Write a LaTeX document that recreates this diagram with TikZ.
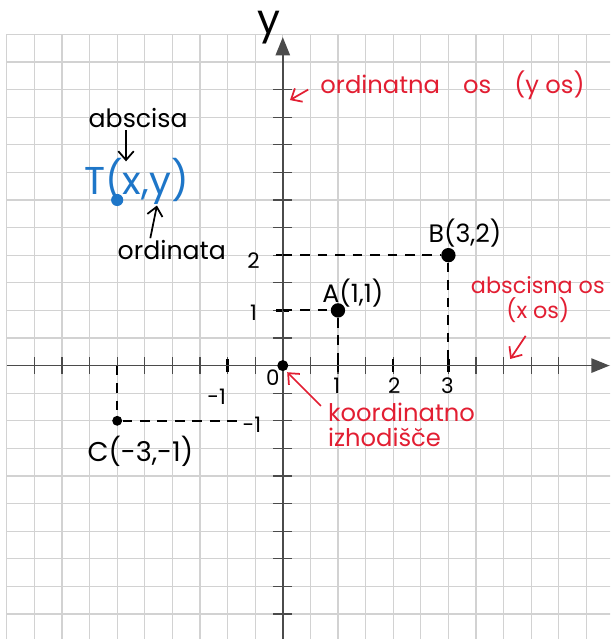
\documentclass[tikz,border=0pt]{standalone}
\usepackage{fontspec}
\setmainfont{Poppins}
\usetikzlibrary{arrows.meta}
\definecolor{penred}{RGB}{226,30,50}
\definecolor{penblue}{RGB}{30,118,200}
\definecolor{gridgray}{RGB}{210,210,210}
\definecolor{axisgray}{RGB}{75,75,75}

\begin{document}
\begin{tikzpicture}[
  lbl/.style={font=\fontsize{13}{14}\selectfont,inner sep=1pt},
  num/.style={font=\fontsize{11}{12}\selectfont,inner sep=1pt},
  note/.style={font=\fontsize{12.5}{13}\selectfont,text=penred,inner sep=1pt},
  dot/.style={circle,fill=black,inner sep=0pt,minimum size=2.6mm},
  proj/.style={dash pattern=on 5pt off 4pt,line width=1pt},
  arr/.style={-{Straight Barb[length=1.6mm,width=2.8mm]},line width=0.9pt},
  axis/.style={axisgray,line width=0.8pt,-{Triangle[length=3.3mm,width=2.6mm]}},
  tickmark/.style={axisgray,line width=0.6pt},
  bigtick/.style={black,line width=1.3pt}]
\useasboundingbox (-5.123,-4.953) rectangle (5.928,6.623);
\clip (-5.123,-4.953) rectangle (5.928,6.623);
\draw[gridgray,line width=0.7pt,step=0.5] (-5,-5.5) grid (6,6);
\coordinate (O) at (0,0);
\coordinate (xl) at (-5,0); \coordinate (xr) at (5.92,0);
\coordinate (yb) at (0,-5.2); \coordinate (yt) at (0,5.95);
\foreach \t in {-4.5,-4,...,5} {
  \draw[tickmark] (\t,-0.15) -- (\t,0.15);
  \draw[tickmark] (-0.17,\t) -- (0.17,\t);
}
\foreach \t in {-1,1,2,3} \draw[bigtick] (\t,-0.12) -- (\t,0.12);
\foreach \t in {1,2} \draw[bigtick] (-0.12,\t) -- (0.12,\t);
\draw[axis] (xl) -- (xr);
\draw[axis] (yb) -- (yt);
\node[inner sep=0pt,font=\fontsize{21}{21}\selectfont] (ylab) at (-0.25,6.12) {y};
\node[num] (zero) at (-0.18,-0.22) {0};
\node[num] (x1) at (0.98,-0.36) {1};
\node[num] (x2) at (2.02,-0.37) {2};
\node[num] (x3) at (2.98,-0.36) {3};
\node[num] (xm1) at (-1.2,-0.57) {-1};
\node[num] (ym1) at (-0.56,-1.08) {-1};
\node[num] (y1) at (-0.53,0.95) {1};
\node[num] (y2) at (-0.53,1.91) {2};
\node[dot] (A) at (1,1) {};
\node[dot] (B) at (3,2) {};
\node[dot,minimum size=1.8mm] (C) at (-3,-1) {};
\node[dot,minimum size=2mm] (Odot) at (O) {};
\node[dot,fill=penblue,minimum size=2.2mm] (T) at (-3,3) {};
\draw[proj] (A -| O) -- (A) -- (A |- O);
\draw[proj] (B -| O) -- (B) -- (B |- O);
\draw[proj] (C |- O) -- (C) -- (C -| ym1.west);
\node[lbl] (Alab) at (1.27,1.31) {A(1,1)};
\node[lbl] (Blab) at (3.3,2.4) {B(3,2)};
\node[lbl,font=\fontsize{14}{15}\selectfont] (Clab) at (-2.58,-1.56) {C(-3,-1)};
\node[text=penblue,inner sep=1pt,font=\fontsize{20}{20}\selectfont] (Tlab) at (-2.65,3.33) {T(x,y)};
\node[lbl] (absc) at (-2.62,4.48) {abscisa};
\node[lbl] (ordi) at (-2.01,2.09) {ordinata};
\coordinate (xhead) at (-2.84,3.7);
\coordinate (yhead) at (-2.28,2.9);
\draw[arr] (absc.south -| xhead) -- (xhead);
\draw[arr] ([xshift=-0.39cm]ordi.north) -- (yhead);
\node[note,anchor=west] (yaxnote) at (0.64,5.08) {ordinatna\hspace{0.3cm} os\hspace{0.3cm} (y os)};
\node[note,align=center,font=\fontsize{11.5}{13}\selectfont] (xaxnote) at (4.62,1.2) {abscisna os\\(x os)};
\node[note,align=left,anchor=north west] (orinote) at (0.78,-0.64) {koordinatno\\izhodišče};
\coordinate (yaxhead) at (0.13,4.81);
\coordinate (xaxhead) at (4.12,0.12);
\coordinate (Ohead) at (0.08,-0.12);
\draw[arr,penred] ([shift={(-0.18,-0.08)}]yaxnote.west) -- (yaxhead);
\draw[arr,penred] ([shift={(-0.22,-0.2)}]xaxnote.south) -- (xaxhead);
\draw[arr,penred] ([shift={(-0.09,-0.09)}]orinote.north west) -- (Ohead);
\end{tikzpicture}
\end{document}
